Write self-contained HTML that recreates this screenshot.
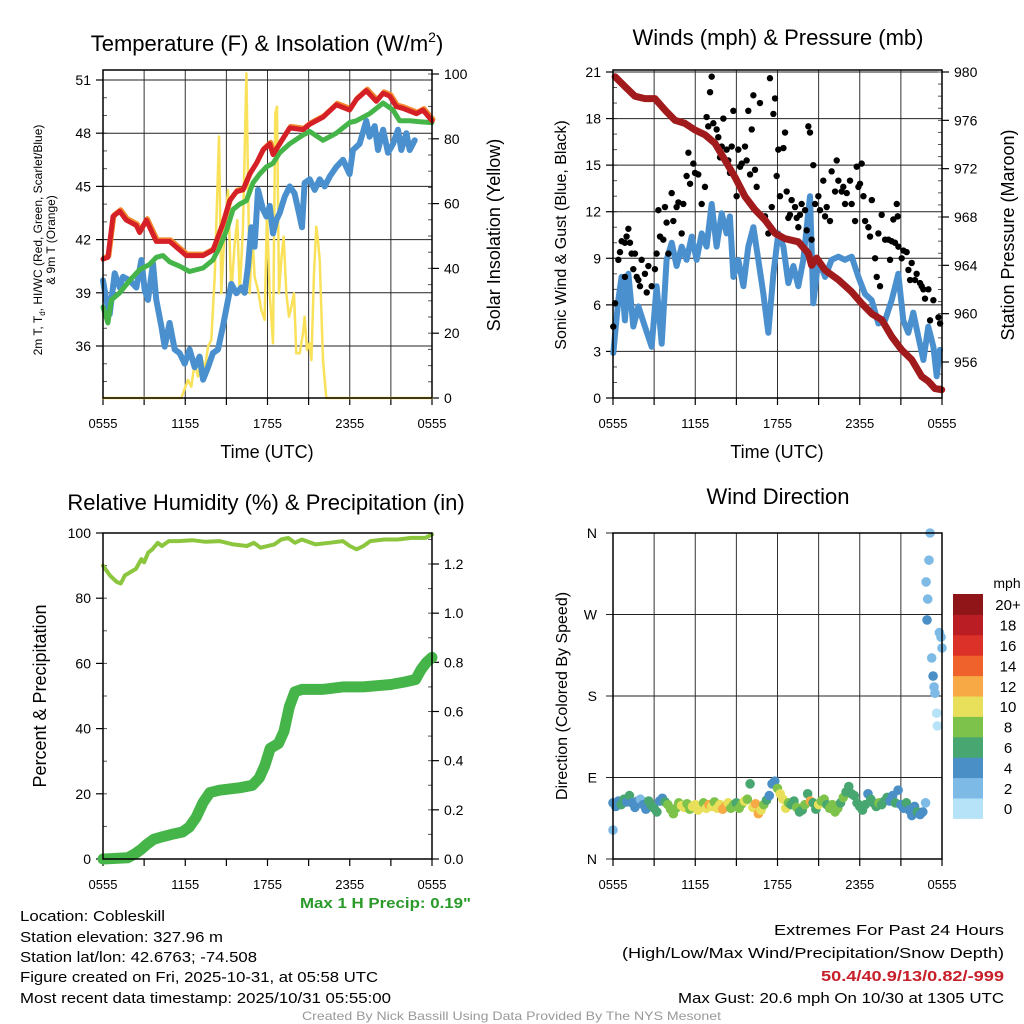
<!DOCTYPE html>
<html><head><meta charset="utf-8"><style>
html,body{margin:0;padding:0;background:#fff;}
svg{display:block;font-family:"Liberation Sans",sans-serif;}
</style></head><body>
<svg id="fig" width="1024" height="1024" viewBox="0 0 1024 1024" xmlns="http://www.w3.org/2000/svg">
<rect width="1024" height="1024" fill="#fff"/>
<g font-size="22" text-anchor="middle" fill="#000">
<text x="267" y="51">Temperature (F) &amp; Insolation (W/m<tspan dy="-9" font-size="14">2</tspan><tspan dy="9">)</tspan></text>
<text x="778" y="45">Winds (mph) &amp; Pressure (mb)</text>
<text x="266" y="510">Relative Humidity (%) &amp; Precipitation (in)</text>
<text x="778" y="504">Wind Direction</text>
</g>
<g font-size="18" text-anchor="middle">
<text x="267" y="458">Time (UTC)</text>
<text x="777" y="458">Time (UTC)</text>
<text transform="translate(500,235) rotate(-90)">Solar Insolation (Yellow)</text>
<text transform="translate(1014,235) rotate(-90)">Station Pressure (Maroon)</text>
<text transform="translate(566,235) rotate(-90)" font-size="16">Sonic Wind &amp; Gust (Blue, Black)</text>
<text transform="translate(46,696) rotate(-90)">Percent &amp; Precipitation</text>
<text transform="translate(567,696) rotate(-90)" font-size="16">Direction (Colored By Speed)</text>
<text transform="translate(42,240) rotate(-90)" font-size="12">2m T, T<tspan font-size="8" dy="3">d</tspan><tspan dy="-3">, HI/WC (Red, Green, Scarlet/Blue)</tspan></text>
<text transform="translate(55,240) rotate(-90)" font-size="12">&amp; 9m T (Orange)</text>
</g>
<g font-size="15" fill="#000">
<text x="20" y="921" textLength="145" lengthAdjust="spacingAndGlyphs">Location: Cobleskill</text>
<text x="20" y="942" textLength="203" lengthAdjust="spacingAndGlyphs">Station elevation: 327.96 m</text>
<text x="20" y="962" textLength="237" lengthAdjust="spacingAndGlyphs">Station lat/lon: 42.6763; -74.508</text>
<text x="20" y="982" textLength="358" lengthAdjust="spacingAndGlyphs">Figure created on Fri, 2025-10-31, at 05:58 UTC</text>
<text x="20" y="1003" textLength="371" lengthAdjust="spacingAndGlyphs">Most recent data timestamp: 2025/10/31 05:55:00</text>
<text x="774" y="935" textLength="230" lengthAdjust="spacingAndGlyphs">Extremes For Past 24 Hours</text>
<text x="622" y="958" textLength="382" lengthAdjust="spacingAndGlyphs">(High/Low/Max Wind/Precipitation/Snow Depth)</text>
<text x="821" y="981" textLength="183" lengthAdjust="spacingAndGlyphs" fill="#c8202a" font-weight="bold">50.4/40.9/13/0.82/-999</text>
<text x="678" y="1003" textLength="326" lengthAdjust="spacingAndGlyphs">Max Gust: 20.6 mph On 10/30 at 1305 UTC</text>
<text x="300" y="908" textLength="171" lengthAdjust="spacingAndGlyphs" fill="#2a9a2a" font-weight="bold">Max 1 H Precip: 0.19"</text>
<text x="302" y="1020" font-size="12" textLength="419" lengthAdjust="spacingAndGlyphs" fill="#999">Created By Nick Bassill Using Data Provided By The NYS Mesonet</text>
</g>
</svg>
<script>
// ---------- DATA ----------
const timeTickLabels = ["0555","1155","1755","2355","0555"];
const tempTicks = [36,39,42,45,48,51];
const solarTicks = [0,20,40,60,80,100];
const windTicks = [0,3,6,9,12,15,18,21];
const pressTicks = [956,960,964,968,972,976,980];
const rhTicks = [0,20,40,60,80,100];
const precipTicks = [0,0.2,0.4,0.6,0.8,1.0,1.2];
const dirTickLabels = ["N","E","S","W","N"];
const dirTicks = [0,90,180,270,360];
const legendLabels = ["0","2","4","6","8","10","12","14","16","18","20+"];
const legendColors = ["#b7e3f8","#7dbbe6","#4a8fc6","#48a670","#7dc24a","#e8e05a","#f6a945","#f0622c","#dc3128","#bb1d24","#8f1518"];

const airT = [0,0.36,0.73,1.22,1.70,2.43,2.67,3.16,3.40,3.89,4.86,6.08,7.30,8.02,8.75,9.24,9.73,10.21,10.70,11.19,11.67,12.16,12.40,13.13,13.62,14.59,15.08,16.05,17.02,17.99,18.48,19.21,19.45,19.94,20.43,20.91,21.40,21.89,22.86,23.34,24];
const airV = [40.9,41.0,43.3,43.6,43.1,42.8,42.4,43.1,42.7,41.9,41.9,41.1,41.1,41.4,42.9,44.2,44.7,44.8,45.7,46.3,47.05,47.4,46.8,47.7,48.3,48.2,48.5,48.9,49.6,49.3,49.9,50.4,50.2,49.8,50.25,50.1,49.5,49.4,49.1,49.3,48.7];
const hiT = [0,0.36,0.61,1.22,1.95,2.67,3.40,3.89,4.38,4.86,5.59,6.32,7.30,8.02,8.51,9.00,9.48,9.97,10.46,10.94,11.43,11.92,12.40,12.89,13.62,14.59,15.08,16.05,17.02,17.99,18.48,19.45,20.43,21.16,21.64,22.37,23.10,24];
const hiV = [38.2,37.3,38.6,39.0,39.7,40.3,40.6,41.0,41.1,40.75,40.5,40.2,40.4,40.85,41.6,42.5,43.7,44.0,44.2,45.2,45.7,46.1,46.3,46.9,47.4,47.9,48.1,47.6,48.0,48.6,48.7,49.1,49.7,49.3,48.7,48.7,48.65,48.6];
const dewT = [0,0.24,0.49,0.85,1.22,1.46,1.95,2.43,2.80,3.04,3.28,3.65,3.89,4.26,4.50,4.86,5.23,5.59,5.96,6.32,6.69,7.05,7.30,7.66,8.02,8.39,8.75,9.12,9.36,9.73,10.09,10.33,10.58,10.82,11.06,11.31,11.67,11.92,12.16,12.40,12.64,12.89,13.25,13.62,13.98,14.35,14.52,14.71,15.08,15.44,15.81,16.17,16.54,17.02,17.51,17.99,18.24,18.72,19.21,19.45,19.82,20.06,20.43,20.79,21.16,21.52,21.76,22.13,22.37,22.74];
const dewV = [39.7,38.6,37.8,40.1,39.3,39.9,39.7,39.3,40.85,39.15,38.6,40.65,38.6,37.1,35.96,37.3,35.8,35.6,35.0,35.8,34.8,35.4,34.1,34.8,35.6,35.8,37.1,38.6,39.5,38.97,39.3,39.0,40.5,42.7,41.6,44.8,43.7,43.3,43.9,42.35,43.1,43.5,44.4,45.0,44.6,43.3,42.7,45.2,45.4,44.8,45.4,45.0,45.55,46.1,46.5,45.7,47.05,47.4,48.7,47.8,48.4,47.05,48.2,46.9,47.4,48.2,47.05,48.0,47.05,47.6];
const solarT = [0,5.71,6.20,6.44,6.69,6.93,7.17,7.42,7.66,7.90,8.15,8.46,8.63,8.88,9.12,9.36,9.61,9.80,9.97,10.21,10.46,10.70,10.89,11.06,11.31,11.55,11.79,11.96,12.16,12.40,12.57,12.69,12.84,13.01,13.18,13.37,13.57,13.74,13.93,14.10,14.35,14.59,14.71,14.88,15.08,15.20,15.39,15.56,15.68,15.81,16.05,16.29,24];
const solarV = [0,0,5.6,3.5,10.7,6.6,12.8,8.6,15.8,17.9,37.4,80.7,32.3,52.9,64.2,32.3,47.7,54.9,32.3,52.9,100.2,32.3,50.8,37.4,33.3,27.2,24.1,57.0,32.3,16.9,87.9,89.9,32.3,42.6,49.8,32.3,25.1,28.2,32.3,13.8,13.8,20.0,25.1,14.8,16.9,11.7,38.5,52.9,48.8,42.6,11.7,0,0];

const pressT = [0.15,0.87,1.60,2.33,3.06,3.79,4.52,5.25,5.98,6.71,7.44,8.17,8.90,9.63,10.36,11.09,11.82,12.55,13.52,14.25,14.49,14.86,15.47,16.44,17.41,18.14,18.87,19.60,20.33,21.06,21.79,22.52,23.01,23.49,23.98];
const pressV = [979.6,978.8,978.0,977.8,977.8,976.85,976.0,975.75,975.2,974.8,974.1,972.7,971.3,969.7,968.6,967.75,966.65,966.2,965.95,965.0,964.0,964.6,963.6,962.8,961.8,960.85,960.0,959.5,958.1,957.0,956.2,954.8,954.4,953.8,953.7];
const sonicT = [0.02,0.39,0.63,0.87,1.12,1.48,1.85,2.33,2.82,3.18,3.55,3.91,4.28,4.64,5.01,5.37,5.74,6.10,6.47,6.83,7.20,7.56,7.93,8.29,8.53,8.78,9.14,9.51,9.87,10.24,10.60,10.97,11.33,11.70,12.06,12.43,12.79,13.16,13.52,13.88,14.37,14.61,14.98,15.47,15.95,16.44,16.92,17.41,17.90,18.38,18.87,19.36,19.84,20.33,20.81,21.18,21.54,21.91,22.27,22.64,23.00,23.37,23.61,23.85];
const sonicV = [2.9,6.3,7.8,5.0,8.0,4.6,5.9,4.6,3.3,7.2,3.5,8.9,10.0,8.5,9.75,8.9,10.4,8.9,10.6,9.75,12.5,9.75,11.9,10.6,11.7,7.8,8.9,7.2,9.75,11.0,8.9,6.7,4.2,8.0,10.6,9.75,7.4,8.5,7.2,8.9,13.0,6.1,8.9,7.8,8.9,9.1,8.9,9.1,7.8,6.7,6.3,4.8,5.0,6.3,8.0,5.0,4.2,5.5,3.95,2.45,4.6,3.3,1.4,3.1];
const gustT = [0.02,0.15,0.39,0.51,0.63,0.87,0.99,1.12,1.24,0.87,1.36,1.60,1.48,1.73,1.85,1.97,2.09,2.33,2.46,2.58,2.82,3.06,3.18,3.31,3.43,3.67,3.79,3.91,4.04,4.28,4.40,4.64,4.77,5.01,5.13,5.37,5.50,5.62,5.86,5.98,6.22,6.47,6.71,6.83,7.08,7.20,6.95,7.32,7.56,7.68,7.93,7.81,8.05,8.29,8.41,8.53,8.78,8.66,9.02,9.14,9.27,9.39,9.63,9.75,9.87,10.0,10.12,10.24,10.36,10.48,10.72,11.09,11.33,11.45,11.58,11.70,11.82,11.94,12.06,12.18,12.43,12.55,12.67,12.79,12.91,13.03,13.28,13.40,13.52,13.64,13.76,14.01,14.13,14.25,14.37,14.49,14.61,14.74,14.98,15.10,15.34,15.47,15.59,15.83,15.95,16.20,16.32,16.44,16.68,16.80,16.93,17.05,17.29,17.41,17.66,17.78,17.90,18.02,18.14,18.27,18.39,18.63,18.75,18.88,19.12,19.24,19.36,19.48,19.60,19.85,20.09,20.21,20.33,20.45,20.57,20.70,20.77,20.82,21.06,21.18,21.42,21.55,21.67,21.79,22.03,22.15,22.40,22.52,22.64,22.76,23.01,23.13,23.37,23.74,23.86];
const gustV = [4.6,6.1,8.9,9.4,10.1,10.0,10.4,10.9,10.0,7.8,9.3,9.3,8.3,7.8,7.6,7.2,8.9,8.0,6.8,8.5,7.2,8.3,9.3,12.1,10.4,10.2,12.3,11.3,9.3,13.2,11.4,12.3,12.6,10.6,12.5,14.3,15.8,13.8,15.1,14.5,14.4,12.5,13.6,18.1,19.7,20.7,17.5,17.7,17.3,16.8,16.2,15.5,18.0,16.0,15.3,14.5,18.5,16.2,13.0,16.0,14.9,15.1,16.2,15.3,18.5,14.4,17.3,19.5,14.7,13.6,19.0,11.7,10.6,20.6,12.3,18.3,19.3,14.3,16.0,13.0,16.1,17.1,13.3,11.6,11.8,12.75,12.3,11.6,11.0,11.8,12.5,12.1,10.8,17.5,17.1,10.2,15.0,12.5,13.0,12.1,14.0,11.7,12.3,11.4,14.6,13.3,15.3,14.0,13.3,13.6,12.5,13.2,14.0,12.5,11.4,14.9,13.6,13.8,15.1,13.0,11.4,11.0,10.4,12.75,9.0,7.8,10.6,7.2,11.8,10.2,10.2,8.9,10.1,11.5,10.0,12.5,11.7,9.75,9.0,9.5,9.4,8.25,7.6,8.7,7.6,8.0,7.4,7.2,7.0,6.4,7.0,5.0,6.3,5.2,4.8];

const rhT = [0,0.5,1,1.3,1.6,2,2.4,2.8,3.0,3.3,3.6,4.0,4.3,4.8,5.5,6.5,7.5,8.5,9.5,10.5,11,11.5,12.5,13,13.5,14,14.5,15.5,16.5,17.5,18,18.5,19,19.5,20.5,21.5,22.5,23.5,24];
const rhV = [90,87,85,84.5,87,88,89,92,91,94,95,97,96,97.5,97.5,97.8,97.3,97.5,96.5,96,97,95.5,96.5,98,98.5,97,98,96.5,97,97.5,96,95,96,97.5,98,98,98.5,98.5,99.5];
const precipT = [0,1.8,2.3,2.8,3.2,3.7,4.3,5,5.8,6.3,6.8,7.3,7.8,8.5,10,10.9,11.4,11.8,12.2,12.8,13.2,13.6,14.0,14.5,16,17.5,19,21,22,22.8,23.2,23.6,24];
const precipV = [0,0.005,0.02,0.04,0.06,0.08,0.09,0.1,0.11,0.13,0.17,0.23,0.27,0.28,0.29,0.30,0.33,0.38,0.45,0.47,0.52,0.62,0.68,0.69,0.69,0.70,0.70,0.71,0.72,0.73,0.77,0.80,0.82];

const dirT = [0,0,0.2,0.4,0.6,0.8,1.0,1.2,1.4,1.6,1.8,2.0,2.2,2.4,2.6,2.8,3.0,3.2,3.4,3.6,3.8,4.0,4.2,4.4,4.6,4.8,5.0,5.2,5.4,5.6,5.8,6.0,6.2,6.4,6.6,6.8,7.0,7.2,7.4,7.6,7.8,8.0,8.2,8.4,8.6,8.8,9.0,9.2,9.4,9.6,9.8,10.0,10.2,10.4,10.6,10.8,11.0,11.2,11.4,11.6,11.8,12.0,12.2,12.4,12.6,12.8,13.0,13.2,13.4,13.6,13.8,14.0,14.2,14.4,14.6,14.8,15.0,15.2,15.4,15.6,15.8,16.0,16.2,16.4,16.6,16.8,17.0,17.2,17.4,17.6,17.8,18.0,18.2,18.4,18.6,18.8,19.0,19.2,19.4,19.6,19.8,20.0,20.2,20.4,20.6,20.8,21.0,21.2,21.4,21.6,21.8,22.0,22.2,22.4,22.6,22.8,23.13,23.05,22.84,22.96,22.91,23.81,23.93,24.0,23.25,23.35,23.42,23.49,23.61,23.66];
const dirD = [32,62,58,64,60,66,63,70,62,57,64,66,60,55,64,59,56,52,64,67,63,60,55,50,56,62,59,57,61,55,58,60,54,58,62,56,60,58,63,56,60,55,58,62,56,60,62,56,61,64,66,83,57,61,50,54,60,65,70,83,86,78,72,66,56,62,60,64,57,52,54,60,72,64,62,55,60,64,66,60,56,60,52,56,62,68,74,80,72,70,62,58,54,60,72,66,62,58,62,60,64,68,64,70,62,76,60,56,62,54,48,58,52,49,52,62,360,330,306,287,264,250,245,233,222,202,190,183,161,147];
const dirS = [3,4,4,5,6,6,4,6,5,4,4,3,4,5,6,6,6,6,4,4,7,8,9,8,9,9,10,10,8,9,10,10,10,11,9,10,12,10,9,11,10,12,12,10,9,9,7,8,9,10,9,6,11,12,12,10,8,6,4,4,4,8,10,10,10,8,7,7,8,7,7,8,6,12,6,6,10,8,8,7,8,8,8,8,7,8,7,6,7,6,6,6,6,6,4,6,6,6,8,6,6,6,4,4,6,4,4,4,6,4,4,4,6,4,4,2,2,2,2,2,4,2,2,2,2,4,2,2,0,0];

// ---------- DRAW ----------
const NS = "http://www.w3.org/2000/svg";
const svg = document.getElementById("fig");
function mk(tag, attrs, parent) {
  const e = document.createElementNS(NS, tag);
  for (const k in attrs) e.setAttribute(k, attrs[k]);
  (parent || svg).appendChild(e);
  return e;
}
function linScale(d0, d1, r0, r1) { return v => r0 + (v - d0) * (r1 - r0) / (d1 - d0); }
function pathD(xs, ys, fx, fy) { return xs.map((t, i) => (i ? "L" : "M") + fx(t).toFixed(1) + "," + fy(ys[i]).toFixed(1)).join(""); }

const P = {
  tl: {x0:103,x1:432,y0:70,y1:398},
  tr: {x0:613,x1:942,y0:70,y1:398},
  bl: {x0:103,x1:432,y0:533,y1:859},
  br: {x0:613,x1:942,y0:533,y1:859}
};
function xScale(p) { return linScale(0, 24, p.x0, p.x1); }

function frameAndTime(p, grid, name) {
  const g = mk("g", {});
  
  
  const fx = xScale(p);
  if (grid) {
    for (let h = 3; h < 24; h += 3) {
      const gl = mk("line", {x1:fx(h), x2:fx(h), y1:p.y0, y2:p.y1, stroke:"#333", "stroke-width":1}, g);
      
      
    }
  }
  for (let h = 0; h <= 24; h += 3) {
    mk("line", {x1:fx(h), x2:fx(h), y1:p.y1, y2:p.y1 + 7, stroke:"#000", "stroke-width":1.2}, g);
  }
  timeTickLabels.forEach((lab, i) => {
    const t = mk("text", {x:fx(i*6), y:p.y1 + 30, "font-size":13, "text-anchor":"middle"}, g);
    
    
    t.textContent = lab;
  });
  return g;
}
function leftAxis(p, ticks, fy, fmt, minorStep, lo, hi, grid, name) {
  const g = mk("g", {});
  
  
  if (minorStep) for (let v = lo; v <= hi + 1e-9; v += minorStep) {
    const y = fy(v); if (y < p.y0 || y > p.y1) continue;
    mk("line", {x1:p.x0, x2:p.x0 + 4, y1:y, y2:y, stroke:"#555", "stroke-width":1}, g);
  }
  ticks.forEach(v => {
    const y = fy(v);
    if (grid) {
      const gl = mk("line", {x1:p.x0, x2:p.x1, y1:y, y2:y, stroke:"#222", "stroke-width":1}, g);
      
      
    }
    mk("line", {x1:p.x0 - 7, x2:p.x0, y1:y, y2:y, stroke:"#000", "stroke-width":1.2}, g);
    const t = mk("text", {x:p.x0 - 12, y:y + 5, "font-size":14, "text-anchor":"end"}, g);
    
    
    t.textContent = fmt(v);
  });
}
function rightAxis(p, ticks, fy, fmt, minorStep, lo, hi, name) {
  const g = mk("g", {});
  
  
  if (minorStep) for (let v = lo; v <= hi + 1e-9; v += minorStep) {
    const y = fy(v); if (y < p.y0 || y > p.y1) continue;
    mk("line", {x1:p.x1 - 4, x2:p.x1, y1:y, y2:y, stroke:"#555", "stroke-width":1}, g);
  }
  ticks.forEach(v => {
    const y = fy(v);
    mk("line", {x1:p.x1, x2:p.x1 + 7, y1:y, y2:y, stroke:"#000", "stroke-width":1.2}, g);
    const t = mk("text", {x:p.x1 + 12, y:y + 5, "font-size":14, "text-anchor":"start"}, g);
    
    
    t.textContent = fmt(v);
  });
}
function border(p) {
  const b = mk("rect", {x:p.x0, y:p.y0, width:p.x1 - p.x0, height:p.y1 - p.y0, fill:"none", stroke:"#000", "stroke-width":1.5});
  
  
}
function line(xs, ys, fx, fy, color, w, name, extra) {
  const e = mk("path", Object.assign({d:pathD(xs, ys, fx, fy), fill:"none", stroke:color, "stroke-width":w, "stroke-linejoin":"round", "stroke-linecap":"round"}, extra || {}));
  
  
  return e;
}

// Panel 1
(function(){
  const p = P.tl, fx = xScale(p);
  const fy = linScale(36, 51, 346, 80);
  const fs = linScale(0, 100, 398, 74);
  frameAndTime(p, true, "temperature");
  leftAxis(p, tempTicks, fy, v => v, 1, 34, 51, true, "temperature-left-axis");
  rightAxis(p, solarTicks, fs, v => v, 5, 0, 100, "solar-right-axis");
  line(solarT, solarV, fx, fs, "#f9e15a", 2.5, "solar-insolation-line");
  line(dewT, dewV, fx, fy, "#4a90cf", 6, "dewpoint-line");
  line(hiT, hiV, fx, fy, "#46b549", 5, "heat-index-line");
  line(airT, airV, fx, fy, "#f4892e", 5, "nine-meter-temp-line", {transform:"translate(1,-1.5)"});
  line(airT, airV, fx, fy, "#d42026", 5, "air-temp-line");
  border(p);
})();
// Panel 2
(function(){
  const p = P.tr, fx = xScale(p);
  const fy = linScale(0, 21, 398, 72);
  const fp = linScale(956, 980, 362, 72);
  frameAndTime(p, true, "winds");
  leftAxis(p, windTicks, fy, v => v, 1, 0, 21, true, "wind-left-axis");
  rightAxis(p, pressTicks, fp, v => v, 1, 954, 980, "pressure-right-axis");
  line(sonicT, sonicV, fx, fy, "#4a90cf", 6, "sonic-wind-line");
  const g = mk("g", {});
  
  
  gustT.forEach((t, i) => {
    const c = mk("circle", {cx:fx(t), cy:fy(gustV[i]), r:3.2, fill:"#000"}, g);
    
    
  });
  line(pressT, pressV, fx, fp, "#a11a1c", 7, "pressure-line");
  border(p);
})();
// Panel 3
(function(){
  const p = P.bl, fx = xScale(p);
  const fy = linScale(0, 100, 859, 533);
  const fp = linScale(0, 1.2, 859, 564);
  frameAndTime(p, false, "humidity");
  leftAxis(p, rhTicks, fy, v => v, 10, 0, 100, false, "humidity-left-axis");
  rightAxis(p, precipTicks, fp, v => v.toFixed(1), 0.1, 0, 1.3, "precip-right-axis");
  line(precipT, precipV, fx, fp, "#46b549", 11, "precipitation-line");
  line(rhT, rhV, fx, fy, "#8cc63f", 4, "relative-humidity-line");
  border(p);
})();
// Panel 4
(function(){
  const p = P.br, fx = xScale(p);
  const fy = linScale(0, 360, 859, 533);
  frameAndTime(p, true, "direction");
  const g = mk("g", {});
  
  
  dirTicks.forEach((d, i) => {
    const y = fy(d);
    mk("line", {x1:p.x0 - 7, x2:p.x1, y1:y, y2:y, stroke:"#222", "stroke-width":1}, g);
    const t = mk("text", {x:p.x0 - 16, y:y + 5, "font-size":14, "text-anchor":"end"}, g);
    
    
    t.textContent = dirTickLabels[i];
  });
  const gd = mk("g", {});
  
  
  dirT.forEach((t, i) => {
    const ci = Math.min(10, Math.floor(dirS[i] / 2));
    const c = mk("circle", {cx:fx(t), cy:fy(dirD[i]), r:4.8, fill:legendColors[ci]}, gd);
    
    
  });
  border(p);
  // legend
  const lg = mk("g", {});
  
  
  const title = mk("text", {x:1007, y:588, "font-size":14, "text-anchor":"middle"}, lg);
  
  
  title.textContent = "mph";
  const bh = 20.4, top = 594;
  legendLabels.forEach((lab, i) => {
    const y = top + (10 - i) * bh;
    const r = mk("rect", {x:953, y:y, width:30, height:bh + 0.5, fill:legendColors[i]}, lg);
    
    
    const t = mk("text", {x:1008, y:y + bh/2 + 6, "font-size":15, "text-anchor":"middle"}, lg);
    
    
    t.textContent = lab;
  });
})();
</script>
</body></html>
